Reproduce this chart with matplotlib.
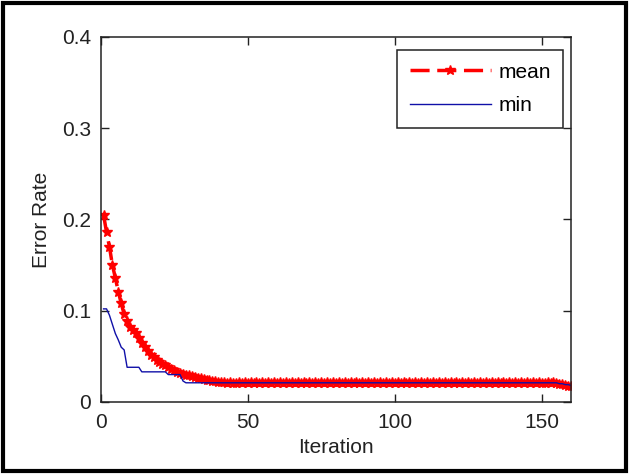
import matplotlib
matplotlib.use("Agg")
import matplotlib.pyplot as plt
from matplotlib.patches import Rectangle

plt.rcParams['font.family'] = ['Liberation Sans', 'DejaVu Sans']

iterations = list(range(1, 161))

mean_err = [
    0.205, 0.186, 0.170, 0.150, 0.136, 0.121, 0.108, 0.096, 0.089, 0.082,
    0.079, 0.076, 0.070, 0.065, 0.060, 0.056, 0.052, 0.049, 0.046, 0.044,
    0.042, 0.040, 0.038, 0.036, 0.035, 0.033, 0.032, 0.031, 0.030, 0.029,
    0.028, 0.027, 0.026, 0.026, 0.025, 0.024, 0.024, 0.023, 0.023, 0.022,
    0.022, 0.022, 0.021, 0.022, 0.021, 0.0205, 0.0215, 0.0205, 0.0215, 0.0205,
    0.0215, 0.0205, 0.0215, 0.0205, 0.0215, 0.0205, 0.0215, 0.0205, 0.0215, 0.0205,
    0.0215, 0.0205, 0.0215, 0.0205, 0.0215, 0.0205, 0.0215, 0.0205, 0.0215, 0.0205,
    0.0215, 0.0205, 0.0215, 0.0205, 0.0215, 0.0205, 0.0215, 0.0205, 0.0215, 0.0205,
    0.0215, 0.0205, 0.0215, 0.0205, 0.0215, 0.0205, 0.0215, 0.0205, 0.0215, 0.0205,
    0.0215, 0.0205, 0.0215, 0.0205, 0.0215, 0.0205, 0.0215, 0.0205, 0.0215, 0.0205,
    0.0215, 0.0205, 0.0215, 0.0205, 0.0215, 0.0205, 0.0215, 0.0205, 0.0215, 0.0205,
    0.0215, 0.0205, 0.0215, 0.0205, 0.0215, 0.0205, 0.0215, 0.0205, 0.0215, 0.0205,
    0.0215, 0.0205, 0.0215, 0.0205, 0.0215, 0.0205, 0.0215, 0.0205, 0.0215, 0.0205,
    0.0215, 0.0205, 0.0215, 0.0205, 0.0215, 0.0205, 0.0215, 0.0205, 0.0215, 0.0205,
    0.0215, 0.0205, 0.0215, 0.0205, 0.0215, 0.0205, 0.0215, 0.0205, 0.0215, 0.0205,
    0.021, 0.022, 0.021, 0.022, 0.021, 0.020, 0.020, 0.019, 0.018, 0.017,
]

min_err = [
    0.102, 0.102, 0.095, 0.085, 0.075, 0.068, 0.060, 0.057, 0.038, 0.038,
    0.038, 0.038, 0.038, 0.033, 0.033, 0.033, 0.033, 0.033, 0.033, 0.033,
    0.033, 0.033, 0.030, 0.030, 0.030, 0.030, 0.030, 0.023, 0.021, 0.021,
    0.021, 0.021, 0.021, 0.021, 0.021, 0.021, 0.021, 0.021, 0.021, 0.021,
    0.021, 0.021, 0.021, 0.021, 0.021, 0.021, 0.021, 0.021, 0.021, 0.021,
    0.021, 0.021, 0.021, 0.021, 0.021, 0.021, 0.021, 0.021, 0.021, 0.021,
    0.021, 0.021, 0.021, 0.021, 0.021, 0.021, 0.021, 0.021, 0.021, 0.021,
    0.021, 0.021, 0.021, 0.021, 0.021, 0.021, 0.021, 0.021, 0.021, 0.021,
    0.021, 0.021, 0.021, 0.021, 0.021, 0.021, 0.021, 0.021, 0.021, 0.021,
    0.021, 0.021, 0.021, 0.021, 0.021, 0.021, 0.021, 0.021, 0.021, 0.021,
    0.021, 0.021, 0.021, 0.021, 0.021, 0.021, 0.021, 0.021, 0.021, 0.021,
    0.021, 0.021, 0.021, 0.021, 0.021, 0.021, 0.021, 0.021, 0.021, 0.021,
    0.021, 0.021, 0.021, 0.021, 0.021, 0.021, 0.021, 0.021, 0.021, 0.021,
    0.021, 0.021, 0.021, 0.021, 0.021, 0.021, 0.021, 0.021, 0.021, 0.021,
    0.021, 0.021, 0.021, 0.021, 0.021, 0.021, 0.021, 0.021, 0.021, 0.021,
    0.021, 0.021, 0.021, 0.021, 0.021, 0.020, 0.020, 0.019, 0.019, 0.018,
]

fig = plt.figure(figsize=(6.29, 4.74), dpi=100)
ax = fig.add_axes([0.160, 0.152, 0.748, 0.770])

ax.plot(iterations, mean_err, color='red', linestyle='--', dashes=(5.5, 2.2),
        linewidth=2.5, marker='*', markersize=7, label='mean')
ax.plot(iterations, min_err, color='#1010a8', linewidth=1.0, label='min')

ax.set_xlim(0, 160)
ax.set_ylim(0, 0.4)
ax.set_xticks([0, 50, 100, 150])
ax.set_yticks([0, 0.1, 0.2, 0.3, 0.4])
ax.set_yticklabels(['0', '0.1', '0.2', '0.3', '0.4'])
ax.tick_params(direction='in', top=True, right=True, length=6, width=1.0,
               labelsize=15, colors='#222222')
ax.tick_params(axis='x', pad=8)
ax.tick_params(axis='y', pad=7)
for s in ax.spines.values():
    s.set_linewidth(1.1)
    s.set_color('#222222')
ax.set_xlabel('Iteration', fontsize=15, labelpad=4, color='#222222')
ax.set_ylabel('Error Rate', fontsize=15, labelpad=8, color='#222222')

leg = ax.legend(loc='upper right', bbox_to_anchor=(0.983, 0.964), fontsize=15,
                handlelength=3.9, handletextpad=0.35, labelspacing=0.7,
                borderpad=0.6, borderaxespad=0, numpoints=1, fancybox=False,
                edgecolor='#222222', framealpha=1)
leg.get_frame().set_linewidth(1.1)

fig.patches.append(Rectangle((0.005, 0.006), 0.99, 0.988, transform=fig.transFigure,
                             fill=False, edgecolor='black', linewidth=3))

fig.savefig('out.png', dpi=100)
